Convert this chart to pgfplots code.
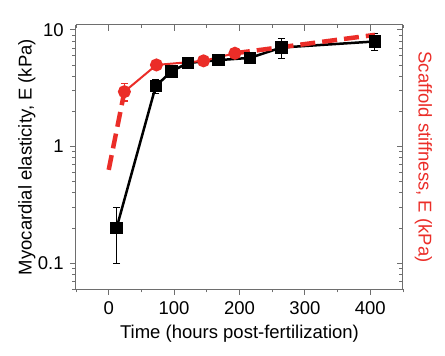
\documentclass[border=0pt]{standalone}
\usepackage{fontspec}
\setmainfont{Liberation Sans}
\usepackage{pgfplots}
\pgfplotsset{compat=1.18}
\definecolor{myred}{RGB}{235,45,40}
\definecolor{axgray}{RGB}{110,110,110}
\pgfplotsset{
  myaxis/.style={
    at={(0pt,0pt)}, anchor=south west,
    scale only axis, width=327pt, height=264pt,
    xmin=-50, xmax=450, ymin=0.06, ymax=11,
    xtick={0,100,200,300,400}, minor xtick={-50,50,150,250,350,450},
    ytick={0.1,1,10},
    minor ytick={0.06,0.07,0.08,0.09,0.2,0.3,0.4,0.5,0.6,0.7,0.8,0.9,2,3,4,5,6,7,8,9},
    axis line style={axgray, line width=1pt},
    major tick length=6pt, minor tick length=3.5pt,
    every tick/.style={axgray, line width=0.8pt},
    /pgf/number format/assume math mode=true,
    tick label style={font=\fontsize{18.5}{22}\selectfont, black},
    label style={font=\fontsize{18.5}{22}\selectfont},
    clip=false,
  }
}
\begin{document}
\begin{tikzpicture}
\fontsize{18.5}{22}\selectfont
\useasboundingbox (-76pt,-67pt) rectangle (369pt,289pt);
\begin{axis}[ymode=log, myaxis,
  axis x line*=bottom, axis y line*=left,
  tick align=outside,
  yticklabels={0.1,1,10},
  xticklabels={0,100,200,300,400},
  xlabel={Time (hours post-fertilization)},
  ylabel={Myocardial elasticity, E (kPa)},
  xlabel style={yshift=2pt},
  ylabel style={yshift=-10pt},
]
\addplot[black, line width=2.5pt, mark=square*, mark size=5pt,
  error bars/.cd, y dir=both, y explicit,
  error bar style={line width=1.2pt, black},
  error mark options={rotate=90, mark size=3.5pt, line width=1.2pt, black}]
coordinates {
(12,0.2) +- (0,0.1)
(72,3.3) +- (0,0.45)
(96,4.4) +- (0,0.3)
(121,5.2) +- (0,0.4)
(168,5.5) +- (0,0.35)
(216,5.75) +- (0,0.3)
(264,7.05) +- (0,1.4)
(407,7.95) +- (0,1.3)
};
\addplot[myred, line width=2pt, mark=*, mark size=5.5pt,
  error bars/.cd, y dir=both, y explicit,
  error bar style={line width=1.2pt, myred},
  error mark options={rotate=90, mark size=3.5pt, line width=1.2pt, myred}]
coordinates {
(24,2.95) +- (0,0.5)
(73,5.0) +- (0,0.15)
(145,5.42) +- (0,0.15)
(193,6.3) +- (0,0.2)
};
\addplot[myred, line width=4.5pt, dash pattern=on 15pt off 7pt, no marks]
coordinates {(0,0.63) (24,2.95)};
\addplot[myred, line width=4.5pt, dash pattern=on 15pt off 7pt, no marks]
coordinates {(193,6.3) (407,9.05)};
\end{axis}
\begin{axis}[ymode=log, myaxis,
  axis x line*=top, axis y line*=right,
  tick align=inside,
  xticklabels={}, yticklabels={},
  ylabel={Scaffold stiffness, E (kPa)},
  ylabel style={color=myred, rotate=180, yshift=-7pt},
]
\addplot[draw=none] coordinates {(0,1)};
\end{axis}
\end{tikzpicture}
\end{document}
